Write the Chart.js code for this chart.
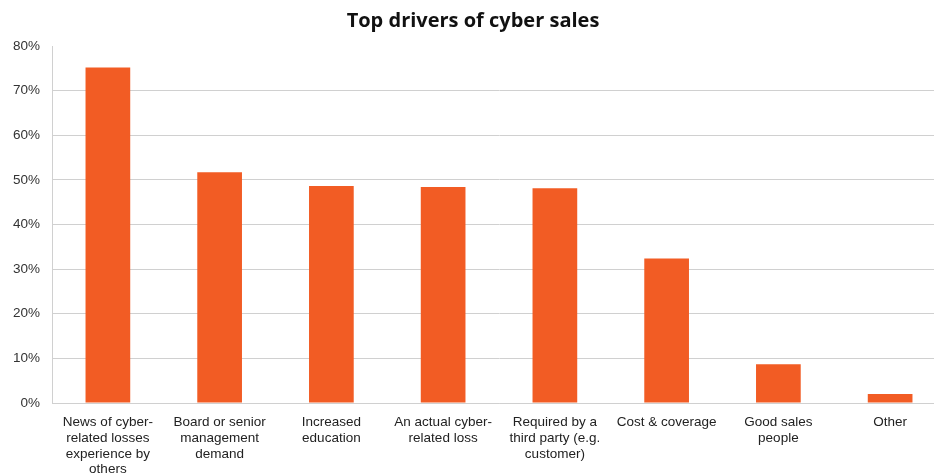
<!DOCTYPE html>
<html>
<head>
<meta charset="utf-8">
<script src="https://cdn.jsdelivr.net/npm/chart.js@4"></script>
<style>
  html, body { margin: 0; padding: 0; background: #fff; overflow: hidden; }
  body { width: 934px; height: 474px; }
  #wrap { width: 946px; height: 490px; }
</style>
</head>
<body>
<div id="wrap"><canvas id="chart"></canvas></div>
<script>
// ===== データ =====
const categories = [
  ["News of cyber-", "related losses", "experience by", "others"],
  ["Board or senior", "management", "demand"],
  ["Increased", "education"],
  ["An actual cyber-", "related loss"],
  ["Required by a", "third party (e.g.", "customer)"],
  ["Cost & coverage"],
  ["Good sales", "people"],
  ["Other"]
];
const shares = [75.2, 51.7, 48.6, 48.4, 48.1, 32.4, 8.7, 2.0];
const yTicks = [0, 10, 20, 30, 40, 50, 60, 70, 80];

const ORANGE = "#f25c24";
const GRID = "#d0d0d0";

new Chart(document.getElementById("chart"), {
  type: "bar",
  data: {
    labels: categories,
    datasets: [{
      data: shares,
      backgroundColor: ORANGE,
      barPercentage: 0.4,
      categoryPercentage: 1.0
    }]
  },
  options: {
    responsive: true,
    maintainAspectRatio: false,
    animation: false,
    layout: { padding: { left: 0, right: 0, top: 0, bottom: 0 } },
    plugins: {
      legend: { display: false },
      tooltip: { enabled: false },
      title: {
        display: true,
        text: "Top drivers of cyber sales",
        color: "#111",
        font: { family: "'Open Sans'", size: 20, weight: "bold" },
        padding: { top: 9, bottom: 13 }
      }
    },
    scales: {
      y: {
        min: 0,
        max: 80,
        afterBuildTicks: axis => { axis.ticks = yTicks.map(v => ({ value: v })); },
        afterFit: axis => { axis.width = 52; },
        ticks: {
          callback: v => v + "%",
          color: "#333",
          font: { family: "'Liberation Sans'", size: 13.5 },
          padding: 12
        },
        grid: {
          color: ctx => (ctx.tick && ctx.tick.value === 80) ? "rgba(0,0,0,0)" : GRID,
          drawTicks: false
        },
        border: { display: true, color: GRID, width: 1 }
      },
      x: {
        afterFit: axis => { axis.height = 87; },
        ticks: {
          color: "#222",
          font: { family: "'Liberation Sans'", size: 13.5, lineHeight: 1.18 },
          padding: 11,
          maxRotation: 0,
          autoSkip: false
        },
        grid: { display: false, drawTicks: false },
        border: { display: true, color: GRID, width: 1 }
      }
    }
  }
});
</script>
</body>
</html>
